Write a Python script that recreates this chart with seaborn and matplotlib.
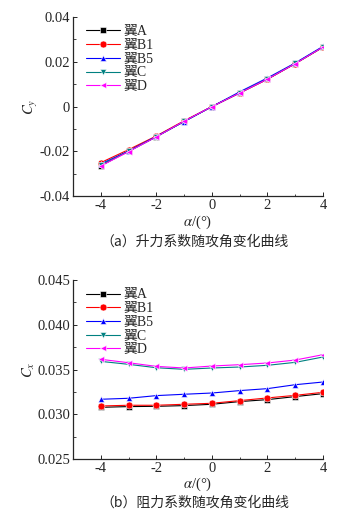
import numpy as np
import pandas as pd
import seaborn as sns
import matplotlib
matplotlib.use("Agg")
import matplotlib.pyplot as plt
from matplotlib.ticker import MultipleLocator, FixedLocator

alpha = [-4, -3, -2, -1, 0, 1, 2, 3, 4]
wings = ["翼A", "翼B1", "翼B5", "翼C", "翼D"]

cy_A = [-0.0264, -0.0199, -0.0134, -0.0066, 0.0, 0.0061, 0.0123, 0.0192, 0.0266]
cy_B1 = [-0.0250, -0.0192, -0.0131, -0.0063, 0.0, 0.0061, 0.0122, 0.0192, 0.0265]
cy_B5 = [-0.0256, -0.0198, -0.0133, -0.0067, 0.0, 0.0066, 0.0128, 0.0195, 0.0269]
cy_C = [-0.0260, -0.0200, -0.0135, -0.0066, 0.0, 0.0062, 0.0124, 0.0193, 0.0266]
cy_D = [-0.0265, -0.0201, -0.0135, -0.0065, 0.0, 0.0061, 0.0123, 0.0192, 0.0266]

cx_A = [0.03077, 0.03085, 0.03088, 0.03096, 0.03111, 0.03141, 0.03163, 0.03197, 0.03230]
cx_B1 = [0.03092, 0.03100, 0.03100, 0.03111, 0.03122, 0.03152, 0.03182, 0.03211, 0.03245]
cx_B5 = [0.03167, 0.03178, 0.03208, 0.03223, 0.03237, 0.03264, 0.03286, 0.03330, 0.03360]
cx_C = [0.03591, 0.03558, 0.03520, 0.03502, 0.03517, 0.03528, 0.03547, 0.03580, 0.03640]
cx_D = [0.03614, 0.03576, 0.03535, 0.03517, 0.03539, 0.03554, 0.03573, 0.03606, 0.03666]

colors = ["#000000", "#ff0000", "#0000ff", "#008080", "#ff00ff"]
markers = ["s", "o", "^", "v", "<"]

sns.set_style("ticks")
plt.rcParams["font.family"] = ["Liberation Serif", "Noto Sans CJK SC"]
plt.rcParams["mathtext.fontset"] = "stix"
plt.rcParams["axes.unicode_minus"] = False
plt.rcParams["xtick.direction"] = "in"
plt.rcParams["ytick.direction"] = "in"


def make_df(series):
    rows = []
    for name, vals in zip(wings, series):
        for a, v in zip(alpha, vals):
            rows.append({"alpha": a, "val": v, "wing": name})
    return pd.DataFrame(rows)


df_cy = make_df([cy_A, cy_B1, cy_B5, cy_C, cy_D])
df_cx = make_df([cx_A, cx_B1, cx_B5, cx_C, cx_D])

fig = plt.figure(figsize=(3.42, 5.15), dpi=100)
ax1 = fig.add_axes([0.2135, 0.619, 0.731, 0.348])
ax2 = fig.add_axes([0.2135, 0.109, 0.731, 0.347])


def draw(ax, df, ylab, ylim, ymajor, yminor, fmt):
    sns.lineplot(data=df, x="alpha", y="val", hue="wing", style="wing",
                 palette=colors, markers=markers, dashes=False, ax=ax,
                 linewidth=0.8, markersize=5, markeredgewidth=0.4)
    ax.set_xlim(-5, 4)
    ax.set_ylim(*ylim)
    ax.xaxis.set_major_locator(FixedLocator([-4, -2, 0, 2, 4]))
    ax.xaxis.set_minor_locator(FixedLocator([-3, -1, 1, 3]))
    ax.yaxis.set_major_locator(MultipleLocator(ymajor))
    ax.yaxis.set_minor_locator(MultipleLocator(yminor))
    ax.yaxis.set_major_formatter(plt.FuncFormatter(fmt))
    ax.tick_params(which="major", length=3, width=0.7, labelsize=10.5, pad=2)
    ax.tick_params(which="minor", length=1.8, width=0.6)
    for s in ["top", "right"]:
        ax.spines[s].set_visible(False)
    for s in ["left", "bottom"]:
        ax.spines[s].set_linewidth(0.9)
    ax.set_xlabel(r"$\alpha$/(°)", fontsize=10.5, labelpad=1)
    ax.set_ylabel(ylab, fontsize=10.5, labelpad=0)
    ax.legend(loc="upper left", bbox_to_anchor=(0.02, 1.0), frameon=False,
              fontsize=10, handlelength=2.4, handletextpad=0.3,
              labelspacing=0.05, borderaxespad=0.2)


def fmt_cy(v, pos):
    if abs(v) < 1e-9:
        return "0"
    return "%.2f" % v


def fmt_cx(v, pos):
    return "%.3f" % v


draw(ax1, df_cy, r"$C_y$", (-0.04, 0.04), 0.02, 0.01, fmt_cy)
draw(ax2, df_cx, r"$C_x$", (0.025, 0.045), 0.005, 0.0025, fmt_cx)

fig.text(0.57, 0.530, "（a）升力系数随攻角变化曲线", ha="center", va="center",
         fontsize=10, family=["Noto Sans CJK SC"])
fig.text(0.57, 0.023, "（b）阻力系数随攻角变化曲线", ha="center", va="center",
         fontsize=10, family=["Noto Sans CJK SC"])

fig.savefig("out.png", dpi=100)
